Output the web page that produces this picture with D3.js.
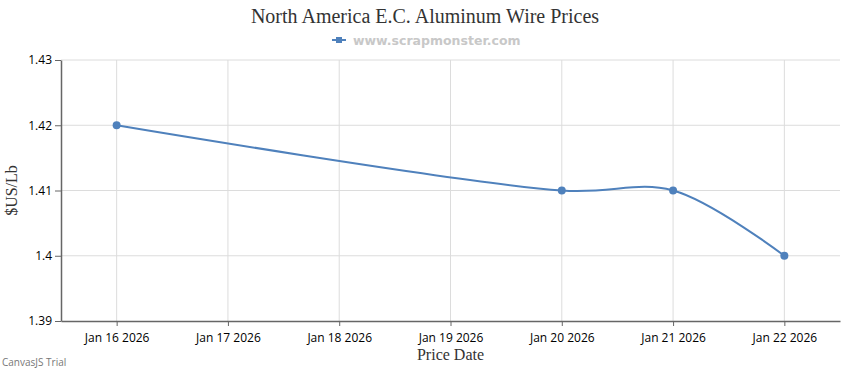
<!DOCTYPE html>
<html>
<head>
<meta charset="utf-8">
<script src="https://cdn.jsdelivr.net/npm/d3@7"></script>
<style>
  body { margin: 0; background: #fff; }
  svg { display: block; }
  .axis text { font-family: "Open Sans", sans-serif; font-size: 12px; fill: #000; }
</style>
</head>
<body>
<svg id="chart"></svg>
<script>
const dates = ['2026-01-16', '2026-01-20', '2026-01-21', '2026-01-22'];
const prices = [1.42, 1.41, 1.41, 1.40];
const yTicks = [1.39, 1.40, 1.41, 1.42, 1.43];

function makeChart() {
  let w = 850;
  let h = 370;
  let margin = { left: 61, right: 10, top: 60, bottom: 49 };

  let parse = d3.timeParse('%Y-%m-%d');
  let dataset = dates.map((d, i) => ({ date: parse(d), price: prices[i] }));

  let svg = d3.select('#chart')
    .attr('width', w)
    .attr('height', h);

  // half a day of padding on both ends, like the original
  let xScale = d3.scaleTime()
    .domain([d3.timeHour.offset(parse('2026-01-16'), -12), d3.timeHour.offset(parse('2026-01-22'), 12)])
    .range([margin.left, w - margin.right]);

  let yScale = d3.scaleLinear()
    .domain([1.39, 1.43])
    .range([h - margin.bottom, margin.top]);

  let dayTicks = d3.timeDay.range(parse('2026-01-16'), d3.timeDay.offset(parse('2026-01-22'), 1));

  // grid
  svg.append('g')
    .selectAll('line.v')
    .data(dayTicks)
    .enter()
    .append('line')
    .attr('x1', (d) => xScale(d))
    .attr('x2', (d) => xScale(d))
    .attr('y1', margin.top)
    .attr('y2', h - margin.bottom)
    .attr('stroke', '#dcdcdc');

  svg.append('g')
    .selectAll('line.h')
    .data(yTicks.slice(1))
    .enter()
    .append('line')
    .attr('x1', margin.left)
    .attr('x2', w - margin.right)
    .attr('y1', (d) => yScale(d))
    .attr('y2', (d) => yScale(d))
    .attr('stroke', '#dcdcdc');

  // AXES
  let xAxis = svg.append('g')
    .attr('class', 'axis')
    .attr('transform', `translate(0, ${h - margin.bottom})`)
    .call(d3.axisBottom(xScale)
      .tickValues(dayTicks)
      .tickFormat(d3.timeFormat('%b %-d %Y'))
      .tickSize(5)
      .tickPadding(7)
      .tickSizeOuter(0));

  let yAxis = svg.append('g')
    .attr('class', 'axis')
    .attr('transform', `translate(${margin.left}, 0)`)
    .call(d3.axisLeft(yScale)
      .tickValues(yTicks)
      .tickFormat((d) => d3.format('.2~f')(d))
      .tickSize(6)
      .tickPadding(3)
      .tickSizeOuter(0));

  [xAxis, yAxis].forEach((a) => {
    a.select('.domain').attr('stroke', '#666').attr('stroke-width', 1.5);
    a.selectAll('.tick line').attr('stroke', '#666');
  });

  // line
  let line = d3.line()
    .x((d) => xScale(d.date))
    .y((d) => yScale(d.price))
    .curve(d3.curveCatmullRom.alpha(0.5));

  svg.append('path')
    .datum(dataset)
    .attr('d', line)
    .attr('fill', 'none')
    .attr('stroke', '#4f81bc')
    .attr('stroke-width', 2);

  svg.selectAll('circle')
    .data(dataset)
    .enter()
    .append('circle')
    .attr('cx', (d) => xScale(d.date))
    .attr('cy', (d) => yScale(d.price))
    .attr('r', 4)
    .attr('fill', '#4f81bc');

  // titles
  svg.append('text')
    .attr('x', w / 2)
    .attr('y', 23)
    .attr('text-anchor', 'middle')
    .style('font-family', '"Liberation Serif", serif')
    .style('font-size', '20px')
    .style('fill', '#333')
    .text('North America E.C. Aluminum Wire Prices');

  // legend
  svg.append('line')
    .attr('x1', 332).attr('x2', 346)
    .attr('y1', 40).attr('y2', 40)
    .attr('stroke', '#4f81bc').attr('stroke-width', 2);
  svg.append('rect')
    .attr('x', 336).attr('y', 37)
    .attr('width', 6).attr('height', 6)
    .attr('fill', '#4f81bc');
  svg.append('text')
    .attr('x', 353)
    .attr('y', 45)
    .style('font-family', '"DejaVu Sans", Verdana, sans-serif')
    .style('font-size', '12.5px')
    .style('font-weight', 'bold')
    .style('fill', '#c8c8c8')
    .text('www.scrapmonster.com');

  svg.append('text')
    .attr('transform', `translate(17, ${(margin.top + h - margin.bottom) / 2}) rotate(-90)`)
    .attr('text-anchor', 'middle')
    .style('font-family', '"Liberation Serif", serif')
    .style('font-size', '16px')
    .style('fill', '#333')
    .text('$US/Lb');

  svg.append('text')
    .attr('x', (margin.left + w - margin.right) / 2)
    .attr('y', 360)
    .attr('text-anchor', 'middle')
    .style('font-family', '"Liberation Serif", serif')
    .style('font-size', '16px')
    .style('fill', '#333')
    .text('Price Date');

  svg.append('text')
    .attr('x', 2)
    .attr('y', 366)
    .style('font-family', '"Open Sans", sans-serif')
    .style('font-size', '10px')
    .style('fill', '#777')
    .text('CanvasJS Trial');
}

window.onload = function () {
  makeChart();
};
</script>
</body>
</html>
